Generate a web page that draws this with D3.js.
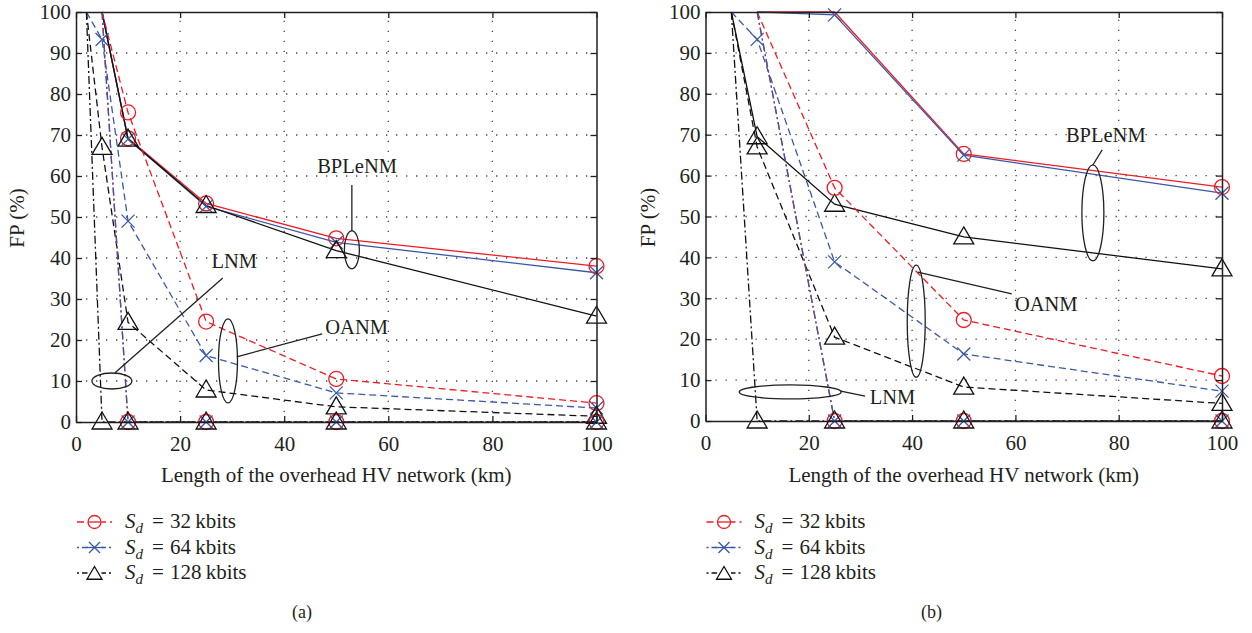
<!DOCTYPE html>
<html><head><meta charset="utf-8">
<script src="https://cdn.jsdelivr.net/npm/d3@7"></script>
<style>
html,body{margin:0;padding:0;background:#fff;}
svg text{font-family:"Liberation Serif","DejaVu Serif",serif;fill:#231f20;}
</style></head>
<body>
<svg id="chart" width="1252" height="633"></svg>
<script>
// ---------------- DATA ----------------
const sizes = ["32", "64", "128"];
const methods = ["BPLeNM", "OANM", "LNM"];
const xTicks = [0, 20, 40, 60, 80, 100];
const yTicks = [0, 10, 20, 30, 40, 50, 60, 70, 80, 90, 100];

// panel (a)
const xA = [2, 5, 10, 25, 50, 100];
const a_BPLeNM_32  = [null, 100, 69.2, 53.3, 44.8, 38.0];
const a_BPLeNM_64  = [null, 100, 69.0, 52.6, 43.8, 36.4];
const a_BPLeNM_128 = [null, 100, 69.0, 52.8, 41.8, 25.8];
const a_OANM_32    = [null, 100, 75.5, 24.5, 10.5, 4.6];
const a_OANM_64    = [100, 93.3, 49.0, 16.2, 7.1, 3.4];
const a_OANM_128   = [100, 67.0, 24.3, 7.8, 3.7, 1.4];
const a_LNM_32     = [null, 100, 0, 0, 0, 0];
const a_LNM_64     = [null, 100, 0, 0, 0, 0];
const a_LNM_128    = [100, 0, 0, 0, 0, 0];

// panel (b)
const xB = [5, 10, 25, 50, 100];
const b_BPLeNM_32  = [null, 100, 100, 65.3, 57.2];
const b_BPLeNM_64  = [null, 100, 99.3, 65.0, 55.7];
const b_BPLeNM_128 = [100, 69.5, 53.0, 45.0, 37.2];
const b_OANM_32    = [null, 100, 57.0, 24.7, 11.0];
const b_OANM_64    = [100, 93.3, 38.9, 16.4, 7.3];
const b_OANM_128   = [100, 67.0, 20.5, 8.3, 4.3];
const b_LNM_32     = [null, 100, 0, 0, 0];
const b_LNM_64     = [null, 100, 0, 0, 0];
const b_LNM_128    = [100, 0, 0, 0, 0];

const xTitle = "Length of the overhead HV network (km)";
const yTitle = "FP (%)";

// annotation anchors (data coords)
const annA = [
  {label:"BPLeNM", c:[53.0,42.0], rx:7.5, ry:19, l0:[53.0,46.6], l1:[53.0,57.8], t:[54.0,60.7], anchor:"middle"},
  {label:"LNM", c:[6.9,10.0], rx:20, ry:8, l0:[7.5,12.0], l1:[28.2,35.1], t:[30.4,37.6], anchor:"middle"},
  {label:"OANM", c:[29.2,14.9], rx:9.5, ry:42, l0:[30.9,15.9], l1:[47.3,21.5], t:[47.9,21.5], anchor:"start"}
];
const annB = [
  {label:"BPLeNM", c:[75.0,50.9], rx:11, ry:48, l0:[75.0,62.6], l1:[76.8,66.3], t:[77.5,68.2], anchor:"middle"},
  {label:"OANM", c:[40.8,24.4], rx:9, ry:56, l0:[41.1,36.4], l1:[59.3,31.1], t:[59.9,26.9], anchor:"start"},
  {label:"LNM", c:[16.4,7.1], rx:51, ry:7, l0:[26.2,7.3], l1:[30.9,6.1], t:[31.8,4.2], anchor:"start"}
];

// ---------------- STYLE ----------------
const colors = {"32":"#ed1c24", "64":"#3b58a6", "128":"#111111"};
const dashes = {BPLeNM:null, OANM:"7,4", LNM:"8,3,2,3"};
const legendDash = {"32":"7,4", "64":"2,3,8,3", "128":"2,3,8,3"};

const svg = d3.select("#chart");

const panels = [
  {id:"a", xs:xA, data:{
      BPLeNM:{"32":a_BPLeNM_32,"64":a_BPLeNM_64,"128":a_BPLeNM_128},
      OANM:{"32":a_OANM_32,"64":a_OANM_64,"128":a_OANM_128},
      LNM:{"32":a_LNM_32,"64":a_LNM_64,"128":a_LNM_128}},
    ann:annA, left:76, right:596.5, top:12, bottom:422, ylab:17, label:"(a)"},
  {id:"b", xs:xB, data:{
      BPLeNM:{"32":b_BPLeNM_32,"64":b_BPLeNM_64,"128":b_BPLeNM_128},
      OANM:{"32":b_OANM_32,"64":b_OANM_64,"128":b_OANM_128},
      LNM:{"32":b_LNM_32,"64":b_LNM_64,"128":b_LNM_128}},
    ann:annB, left:705.5, right:1222, top:12, bottom:421, ylab:648, label:"(b)"}
];

function markerPath(size, s){
  s = s || 1;
  if(size==="64"){ const a=6.5*s; return `M${-a},${-a}L${a},${a}M${-a},${a}L${a},${-a}`; }
  if(size==="128"){ return `M0,${-10*s}L${10*s},${7*s}L${-10*s},${7*s}Z`; }
  return null;
}
function drawMarker(g, size, px, py, s){
  s = s || 1;
  if(size==="32"){
    g.append("circle").attr("cx",px).attr("cy",py).attr("r",7.5*s)
      .attr("fill","none").attr("stroke",colors[size]).attr("stroke-width",1.3);
  } else {
    g.append("path").attr("d",markerPath(size,s)).attr("transform",`translate(${px},${py})`)
      .attr("fill","none").attr("stroke",colors[size]).attr("stroke-width",1.3);
  }
}

panels.forEach(p=>{
  const x = d3.scaleLinear().domain([0,100]).range([p.left,p.right]);
  const y = d3.scaleLinear().domain([0,100]).range([p.bottom,p.top]);
  const g = svg.append("g");

  // grid
  const grid = g.append("g").attr("stroke","#444").attr("stroke-width",1.3).attr("stroke-dasharray","1.3,8.7");
  yTicks.filter(v=>v>0&&v<100).forEach(v=>{
    grid.append("line").attr("x1",x(0)).attr("x2",x(100)).attr("y1",y(v)).attr("y2",y(v));
  });
  xTicks.filter(v=>v>0&&v<100).forEach(v=>{
    grid.append("line").attr("x1",x(v)).attr("x2",x(v)).attr("y1",y(0)).attr("y2",y(100));
  });

  // lines
  const line = d3.line().defined(d=>d[1]!=null).x(d=>x(d[0])).y(d=>y(d[1]));
  methods.forEach(m=>{
    sizes.forEach(sz=>{
      const pts = p.xs.map((xv,i)=>[xv, p.data[m][sz][i]]);
      g.append("path").attr("d",line(pts)).attr("fill","none")
        .attr("stroke",colors[sz]).attr("stroke-width",1.3)
        .attr("stroke-dasharray",dashes[m]);
    });
  });
  // markers
  const mg = g.append("g");
  methods.forEach(m=>{
    sizes.forEach(sz=>{
      p.xs.forEach((xv,i)=>{
        const v = p.data[m][sz][i];
        if(v==null || v>=100) return;
        drawMarker(mg, sz, x(xv), y(v));
      });
    });
  });

  // axes (frame)
  const axStyle = sel=>{
    sel.selectAll(".domain").attr("stroke","#231f20").attr("stroke-width",1.5);
    sel.selectAll(".tick line").attr("stroke","#231f20").attr("stroke-width",1.3);
    sel.selectAll("text").attr("font-family","Liberation Serif, serif").attr("font-size",21).attr("fill","#231f20");
  };
  g.append("g").attr("transform",`translate(0,${p.bottom})`)
    .call(d3.axisBottom(x).tickValues(xTicks).tickSize(-6).tickSizeOuter(0).tickPadding(14).tickFormat(d3.format("d")))
    .call(axStyle);
  g.append("g").attr("transform",`translate(0,${p.top})`)
    .call(d3.axisTop(x).tickValues(xTicks).tickSize(-6).tickSizeOuter(0).tickFormat(""))
    .call(axStyle);
  g.append("g").attr("transform",`translate(${p.left},0)`)
    .call(d3.axisLeft(y).tickValues(yTicks).tickSize(-6).tickSizeOuter(0).tickPadding(5).tickFormat(d3.format("d")))
    .call(axStyle);
  g.append("g").attr("transform",`translate(${p.right},0)`)
    .call(d3.axisRight(y).tickValues(yTicks).tickSize(-6).tickSizeOuter(0).tickFormat(""))
    .call(axStyle);

  // annotations
  p.ann.forEach(a=>{
    g.append("ellipse").attr("cx",x(a.c[0])).attr("cy",y(a.c[1])).attr("rx",a.rx).attr("ry",a.ry)
      .attr("fill","none").attr("stroke","#231f20").attr("stroke-width",1.3);
    g.append("line").attr("x1",x(a.l0[0])).attr("y1",y(a.l0[1])).attr("x2",x(a.l1[0])).attr("y2",y(a.l1[1]))
      .attr("stroke","#231f20").attr("stroke-width",1.3);
    g.append("text").attr("x",x(a.t[0])).attr("y",y(a.t[1])).attr("text-anchor",a.anchor)
      .attr("font-size",20.5).text(a.label);
  });

  // titles
  g.append("text").attr("transform",`translate(${p.ylab},${(p.top+p.bottom)/2+1}) rotate(-90)`)
    .attr("text-anchor","middle").attr("dy","0.35em").attr("font-size",21).text(yTitle);
  g.append("text").attr("x",(p.left+p.right)/2).attr("y",482).attr("text-anchor","middle")
    .attr("font-size",21).text(xTitle);
  g.append("text").attr("x",p.left+226).attr("y",618).attr("text-anchor","middle")
    .attr("font-size",18).text(p.label);

  // legend
  const lg = g.append("g");
  sizes.forEach((sz,i)=>{
    const cy = 522 + i*25.5;
    const lx0 = p.left+1, lx1 = p.left+36;
    lg.append("line").attr("x1",lx0).attr("x2",lx1).attr("y1",cy).attr("y2",cy)
      .attr("stroke",colors[sz]).attr("stroke-width",1.3).attr("stroke-dasharray",legendDash[sz]);
    lg.append("rect").attr("x",(lx0+lx1)/2-7).attr("y",cy-7).attr("width",14).attr("height",14).attr("fill","#fff");
    if(sz==="32"){
      lg.append("circle").attr("cx",(lx0+lx1)/2).attr("cy",cy).attr("r",6.5).attr("fill","none")
        .attr("stroke",colors[sz]).attr("stroke-width",1.3);
      lg.append("line").attr("x1",(lx0+lx1)/2-6.5).attr("x2",(lx0+lx1)/2+6.5).attr("y1",cy).attr("y2",cy)
        .attr("stroke",colors[sz]).attr("stroke-width",1.3);
    } else if(sz==="64"){
      lg.append("line").attr("x1",(lx0+lx1)/2-9).attr("x2",(lx0+lx1)/2+9).attr("y1",cy).attr("y2",cy)
        .attr("stroke",colors[sz]).attr("stroke-width",1.3);
      drawMarker(lg, sz, (lx0+lx1)/2, cy, 0.85);
    } else {
      drawMarker(lg, sz, (lx0+lx1)/2, cy+1, 0.75);
    }
    const tx = p.left+49;
    const t = lg.append("text").attr("x",tx).attr("y",cy+6).attr("font-size",21);
    t.append("tspan").attr("font-style","italic").text("S");
    t.append("tspan").attr("font-style","italic").attr("font-size",15).attr("dy",5).text("d");
    t.append("tspan").attr("x",tx+27).attr("dy",-5).text("=");
    t.append("tspan").attr("x",tx+45).text(`${sz}\u2009kbits`);
  });
});
</script>
</body></html>
